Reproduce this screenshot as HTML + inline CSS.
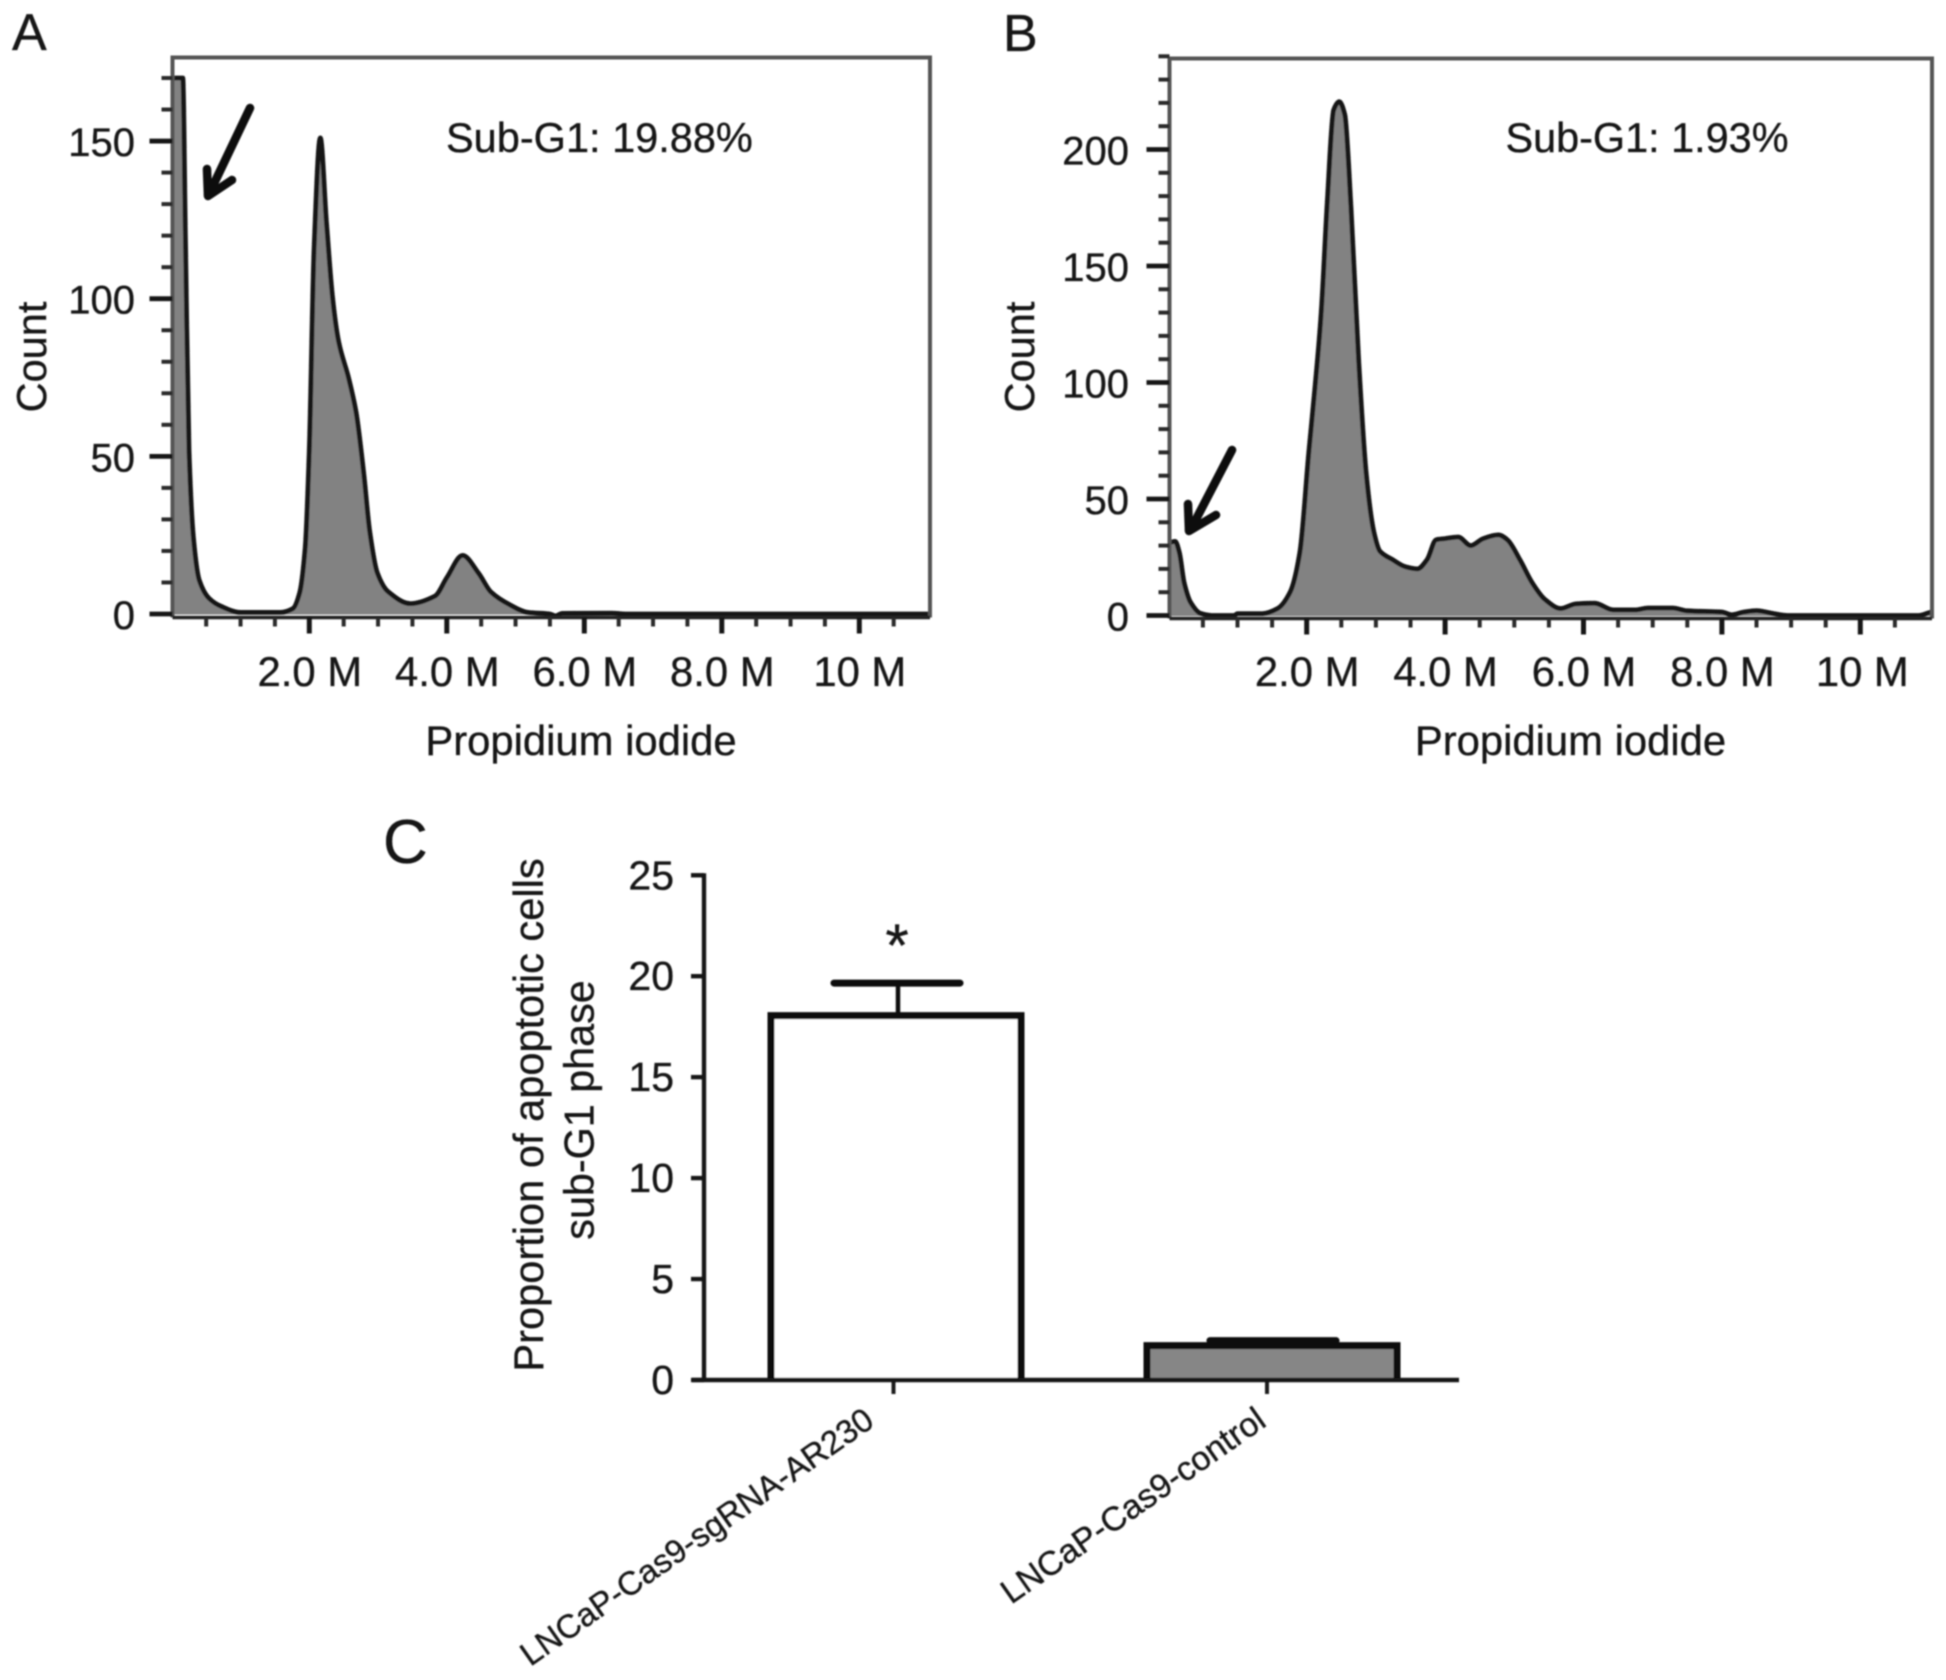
<!DOCTYPE html>
<html lang="en">
<head>
<meta charset="utf-8">
<title>Sub-G1 flow cytometry histograms and apoptosis bar chart</title>
<style>
html,body{margin:0;padding:0;background:#fff;}
svg{display:block;}
text{font-family:"Liberation Sans",Arial,sans-serif;fill:#141414;stroke:#141414;stroke-width:0.35px;}
</style>
</head>
<body>
<svg id="figure" xmlns="http://www.w3.org/2000/svg" width="1946" height="1680" viewBox="0 0 1946 1680">
<defs>
<filter id="soft" x="0" y="0" width="100%" height="100%" filterUnits="userSpaceOnUse"><feGaussianBlur stdDeviation="0.8"/></filter>
</defs>
<rect width="1946" height="1680" fill="#ffffff"/>
<g id="root" filter="url(#soft)">
  <text x="12" y="50" font-size="52">A</text>
  <text x="1003" y="51" font-size="52">B</text>
  <text x="383" y="863" font-size="62">C</text>

  <text transform="translate(46 357) rotate(-90)" text-anchor="middle" font-size="41.5">Count</text>
  <text transform="translate(1034 357) rotate(-90)" text-anchor="middle" font-size="41.5">Count</text>
  <text x="581" y="755" text-anchor="middle" font-size="41.8">Propidium iodide</text>
  <text x="1570.5" y="755" text-anchor="middle" font-size="41.8">Propidium iodide</text>
  <text x="446" y="152" font-size="41.5">Sub-G1: 19.88%</text>
  <text x="1505.5" y="152" font-size="41.4">Sub-G1: 1.93%</text>

  <g fill="none" stroke="#0a0a0a" stroke-width="8.5" stroke-linecap="round" stroke-linejoin="round">
    <path d="M250 108L210 192"/>
    <path d="M207 169L208 196L232 180"/>
  </g>
  <g fill="none" stroke="#0a0a0a" stroke-width="8.5" stroke-linecap="round" stroke-linejoin="round">
    <path d="M1232 450L1192 527"/>
    <path d="M1188 504L1189 531L1216 515"/>
  </g>

  <text transform="translate(543 1115) rotate(-90)" text-anchor="middle" font-size="41.6">Proportion of apoptotic cells</text>
  <text transform="translate(593.5 1110) rotate(-90)" text-anchor="middle" font-size="41.3">sub-G1 phase</text>
  <text x="897" y="966" text-anchor="middle" font-size="60">*</text>
</g>
</svg>
<script>
// Panel A histogram
const histAMillions = [0.02,0.16,0.2,0.25,0.315,0.4,0.54,0.72,1.0,1.58,1.76,1.86,1.94,2.0,2.07,2.16,2.25,2.34,2.43,2.57,2.68,2.79,2.88,2.99,3.15,3.47,3.83,4.0,4.23,4.46,4.64,4.91,5.18,5.5,5.58,5.68,6.4,6.6,8.0,11.0];
const histACounts = [170,170,116,52,24,10.7,5,2.4,0.5,0.5,1.7,6.8,21,52,116,151,124,100,86,75,64,45,26,13,7,3.3,5.7,11.5,18.6,13,7,3,0.5,0,-0.6,0.2,0.3,0,0,0];
const histAYTickValues = [0,50,100,150];
const histAYTickLabels = ['0','50','100','150'];
const histAXTickValues = [2,4,6,8,10];
const histAXTickLabels = ['2.0 M','4.0 M','6.0 M','8.0 M','10 M'];

// Panel B histogram
const histBMillions = [0.03,0.1,0.16,0.23,0.32,0.46,0.64,0.95,1.0,1.36,1.58,1.76,1.9,2.03,2.12,2.21,2.3,2.39,2.47,2.55,2.64,2.75,2.86,2.97,3.06,3.24,3.42,3.6,3.74,3.87,4.0,4.19,4.37,4.55,4.77,4.9,5.08,5.26,5.44,5.67,5.89,6.16,6.43,6.75,6.93,7.29,7.5,8.0,8.14,8.32,8.5,8.72,8.95,10.84,11.02];
const histBCounts = [31.4,31.8,27,14,5.8,1,0,0,0.8,0.8,3,10,27,70,98,130,179,217,220.5,215,175,110,61,36,27.5,24,21,20,24,32.5,33,33.7,30,33,34.6,32.5,24,14,7,3,5,5.3,2.4,2.4,3.2,3.2,2,1.5,0.3,1.5,2.1,1,0,0,1.5];
const histBYTickValues = [0,50,100,150,200];
const histBYTickLabels = ['0','50','100','150','200'];
const histBXTickValues = [2,4,6,8,10];
const histBXTickLabels = ['2.0 M','4.0 M','6.0 M','8.0 M','10 M'];

// Panel C bar chart
const barCategories = ['LNCaP-Cas9-sgRNA-AR230','LNCaP-Cas9-control'];
const barValues = [18.05,1.7];
const barErrors = [1.61,0.25];
const barYTickValues = [0,5,10,15,20,25];
const barYTickLabels = ['0','5','10','15','20','25'];

const SVG_NS = 'http://www.w3.org/2000/svg';
const root = document.getElementById('root');

function shape(tag, parent, attrs) {
  const node = document.createElementNS(SVG_NS, tag);
  for (const key in attrs) node.setAttribute(key, attrs[key]);
  parent.appendChild(node);
  return node;
}

// Monotone cubic through the data so peaks do not overshoot
function smoothPath(xs, ys) {
  const n = xs.length;
  const dx = [], m = [], t = [];
  for (let i = 0; i < n - 1; i++) {
    dx.push(xs[i + 1] - xs[i]);
    m.push((ys[i + 1] - ys[i]) / (xs[i + 1] - xs[i]));
  }
  t.push(m[0]);
  for (let i = 1; i < n - 1; i++) {
    t.push(m[i - 1] * m[i] <= 0 ? 0 : 2 * m[i - 1] * m[i] / (m[i - 1] + m[i]));
  }
  t.push(m[n - 2]);
  let d = '';
  for (let i = 0; i < n - 1; i++) {
    const c1x = xs[i] + dx[i] / 3, c1y = ys[i] + t[i] * dx[i] / 3;
    const c2x = xs[i + 1] - dx[i] / 3, c2y = ys[i + 1] - t[i + 1] * dx[i] / 3;
    d += 'C' + c1x.toFixed(1) + ' ' + c1y.toFixed(1) + ' ' + c2x.toFixed(1) + ' ' + c2y.toFixed(1) + ' ' + xs[i + 1].toFixed(1) + ' ' + ys[i + 1].toFixed(1);
  }
  return d;
}

function drawHistogram(prefix, layout, millions, counts, yVals, yLabels, xVals, xLabels) {
  const xScale = function (v) { return layout.x0 + v * layout.xPerMillion; };
  const yScale = function (v) { return layout.y0 - v * layout.yPerCount; };
  const group = shape('g', root, {});
  
  

  const pxX = millions.map(xScale);
  const pxY = counts.map(yScale);
  const curve = smoothPath(pxX, pxY);
  const start = 'M' + pxX[0].toFixed(1) + ' ' + pxY[0].toFixed(1);

  const area = shape('path', group, {
    d: start + curve + 'L' + pxX[pxX.length - 1].toFixed(1) + ' ' + (layout.y0 + 0.5) + 'L' + pxX[0].toFixed(1) + ' ' + (layout.y0 + 0.5) + 'Z',
    fill: '#828282', stroke: 'none'
  });
  
  

  const outline = shape('path', group, {
    d: start + curve, fill: 'none', stroke: '#171717', 'stroke-width': 4.8, 'stroke-linejoin': 'round'
  });
  
  

  const frame = shape('path', group, {
    d: 'M' + layout.left + ' ' + layout.bottom + 'V' + layout.top + 'H' + layout.right + 'V' + layout.bottom,
    fill: 'none', stroke: '#555555', 'stroke-width': 4
  });
  
  

  const xAxis = shape('line', group, {
    x1: layout.left, x2: layout.right, y1: layout.bottom, y2: layout.bottom, stroke: '#222222', 'stroke-width': 3.6
  });
  
  

  // y minor ticks every 10 counts, major ticks from the data array
  for (let v = 10; v <= layout.yMax; v += 10) {
    if (yVals.indexOf(v) >= 0) continue;
    const minor = shape('line', group, {
      x1: layout.left - 11, x2: layout.left, y1: yScale(v), y2: yScale(v), stroke: '#2a2a2a', 'stroke-width': 4
    });
    
    
  }
  yVals.forEach(function (v, i) {
    const tick = shape('line', group, {
      x1: layout.left - 23, x2: layout.left, y1: yScale(v), y2: yScale(v), stroke: '#141414', 'stroke-width': 4.8
    });
    
    
    const label = shape('text', group, {
      x: layout.yLabelX, y: yScale(v) + 15, 'text-anchor': 'end', 'font-size': 40
    });
    
    
    label.textContent = yLabels[i];
  });

  // x minor ticks every 0.5 M, major ticks from the data array
  for (let v = 0.5; v <= 10.5; v += 0.5) {
    if (xVals.indexOf(v) >= 0) continue;
    const minorX = shape('line', group, {
      x1: xScale(v), x2: xScale(v), y1: layout.bottom, y2: layout.bottom + 9, stroke: '#2a2a2a', 'stroke-width': 4
    });
    
    
  }
  xVals.forEach(function (v, i) {
    const tick = shape('line', group, {
      x1: xScale(v), x2: xScale(v), y1: layout.bottom, y2: layout.bottom + 16, stroke: '#141414', 'stroke-width': 5
    });
    
    
    const label = shape('text', group, {
      x: xScale(v) + (i === 4 ? layout.lastLabelShift : layout.labelShift), y: 686, 'text-anchor': 'middle', 'font-size': 41.8
    });
    
    
    label.textContent = xLabels[i];
  });
}

drawHistogram('panel-a',
  { x0: 171.8, xPerMillion: 68.75, y0: 614, yPerCount: 3.153, left: 172.5, right: 930, top: 57.5, bottom: 617.5, yMax: 170, yLabelX: 135, labelShift: 0.5, lastLabelShift: 0.5 },
  histAMillions, histACounts, histAYTickValues, histAYTickLabels, histAXTickValues, histAXTickLabels);

drawHistogram('panel-b',
  { x0: 1168.3, xPerMillion: 69.2, y0: 615.5, yPerCount: 2.33, left: 1169.5, right: 1932, top: 58.5, bottom: 618.5, yMax: 240, yLabelX: 1129, labelShift: 0.5, lastLabelShift: 2 },
  histBMillions, histBCounts, histBYTickValues, histBYTickLabels, histBXTickValues, histBXTickLabels);

// Panel C
const barY = function (v) { return 1380 - v * 20.19; };
const barX = function (i) { return 896 + i * 376; };
const barW = 250;
const barFills = ['#ffffff', '#868686'];
const barNames = ['bar-sgrna-ar230', 'bar-control'];
const barTickShift = [-2.5, -5];
const labelSizes = [33, 34];
const labelShiftX = [-20, -4];

const barGroup = shape('g', root, {});



barValues.forEach(function (value, i) {
  const cx = barX(i);
  const stem = shape('line', barGroup, {
    x1: cx + 2, x2: cx + 2, y1: barY(value), y2: barY(value + barErrors[i]), stroke: '#111', 'stroke-width': 4.5
  });
  
  

  const cap = shape('line', barGroup, {
    x1: cx - 62, x2: cx + 64, y1: barY(value + barErrors[i]), y2: barY(value + barErrors[i]), stroke: '#0c0c0c', 'stroke-width': 7, 'stroke-linecap': 'round'
  });
  
  

  const bar = shape('path', barGroup, {
    d: 'M' + (cx - barW / 2) + ' ' + barY(0) + 'V' + barY(value) + 'H' + (cx + barW / 2) + 'V' + barY(0),
    fill: barFills[i], stroke: '#0c0c0c', 'stroke-width': 7
  });
  
  

  const tick = shape('line', barGroup, {
    x1: cx + barTickShift[i], x2: cx + barTickShift[i], y1: barY(0), y2: barY(0) + 14, stroke: '#1c1c1c', 'stroke-width': 4
  });
  
  

  const label = shape('text', barGroup, {
    transform: 'translate(' + (cx + labelShiftX[i]) + ' ' + (barY(0) + 45) + ') rotate(-35)',
    'text-anchor': 'end', 'font-size': labelSizes[i]
  });
  
  
  label.textContent = barCategories[i];
});

const barXAxis = shape('line', barGroup, {
  x1: 692, x2: 1459, y1: barY(0), y2: barY(0), stroke: '#141414', 'stroke-width': 4.4
});



const barYAxis = shape('line', barGroup, {
  x1: 704, x2: 704, y1: barY(25) - 2, y2: barY(0), stroke: '#141414', 'stroke-width': 4.4
});



barYTickValues.forEach(function (v, i) {
  const tick = shape('line', barGroup, {
    x1: 691, x2: 704, y1: barY(v), y2: barY(v), stroke: '#141414', 'stroke-width': 4.4
  });
  
  
  const label = shape('text', barGroup, {
    x: 674, y: barY(v) + 14, 'text-anchor': 'end', 'font-size': 41
  });
  
  
  label.textContent = barYTickLabels[i];
});
</script>
</body>
</html>
